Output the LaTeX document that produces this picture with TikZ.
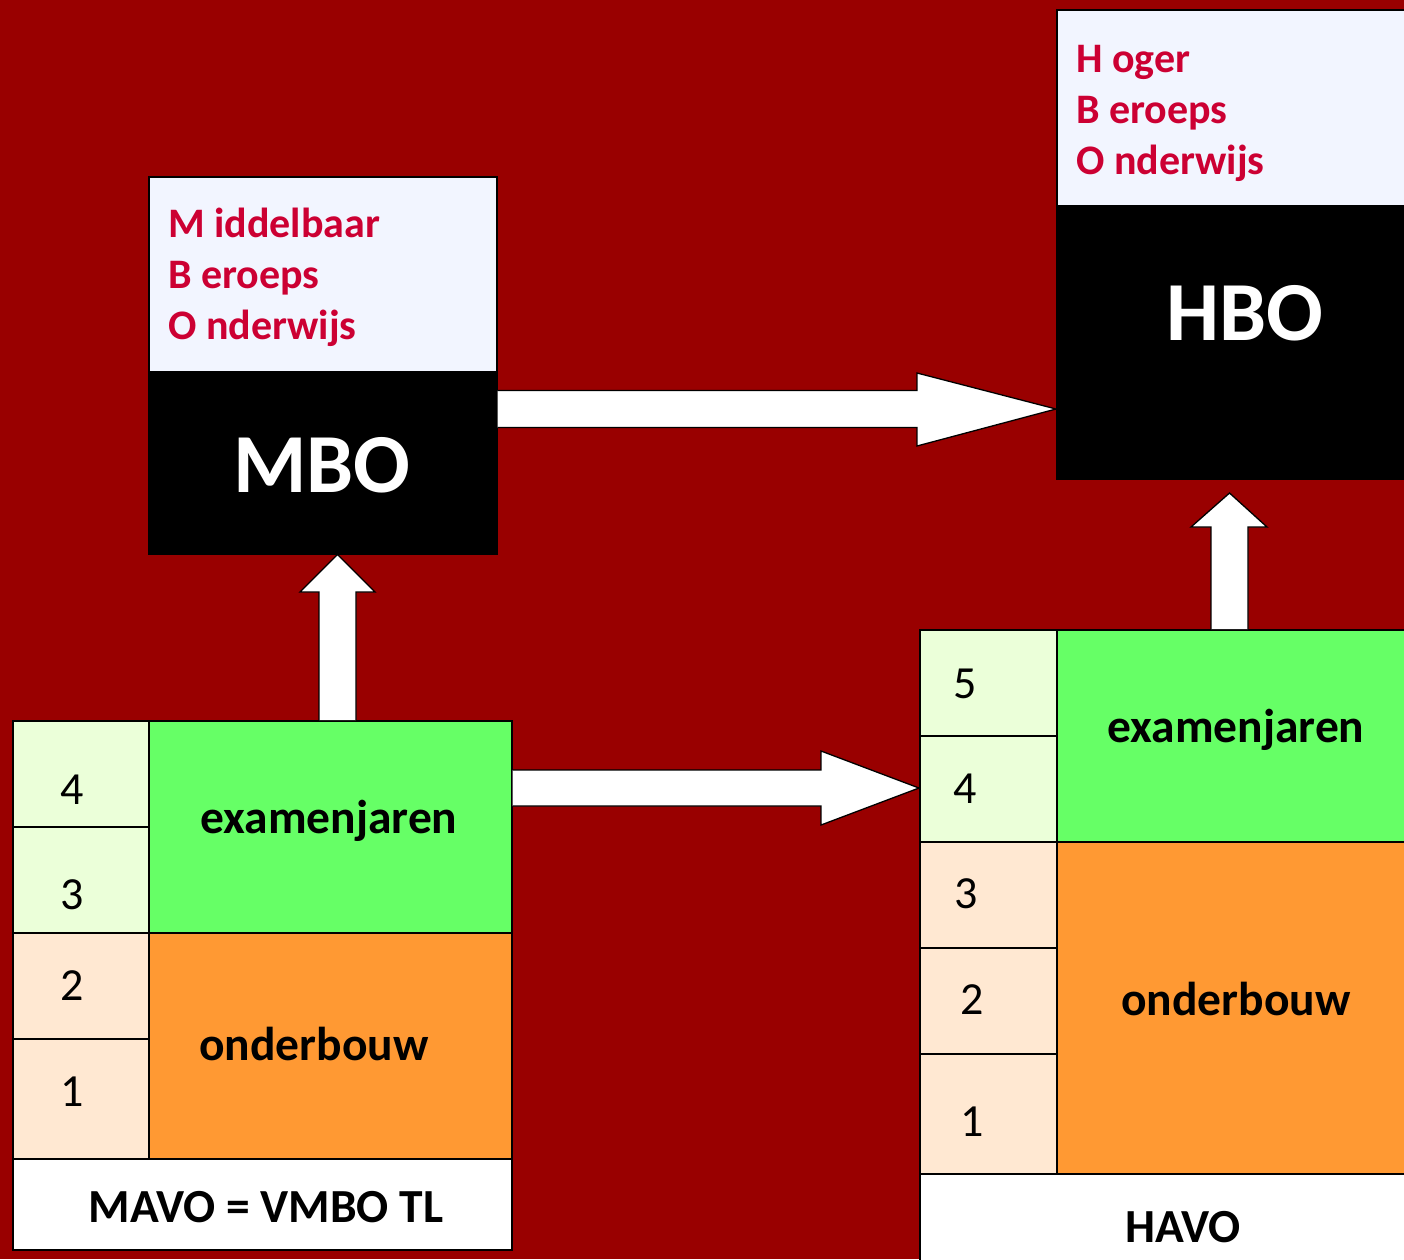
\documentclass[tikz,border=0pt]{standalone}
\usepackage{fontspec}
\setmainfont{Carlito}
\usetikzlibrary{calc}
\definecolor{bg}{HTML}{990000}
\definecolor{lgreen}{HTML}{EBFFD9}
\definecolor{green}{HTML}{66FF66}
\definecolor{lorange}{HTML}{FFE8D2}
\definecolor{orange}{HTML}{FF9933}
\definecolor{lblue}{HTML}{F2F5FF}
\definecolor{redtxt}{HTML}{CC0033}
\begin{document}
\begin{tikzpicture}[x=1pt,y=-1pt,
  cell/.style={draw=black, line width=1.5pt, inner sep=0pt, anchor=north west},
  num/.style={anchor=base, inner sep=0pt, font=\fontsize{46}{50}\selectfont},
  big/.style={anchor=base, inner sep=0pt, font=\fontsize{47.5}{52}\selectfont\bfseries},
  title/.style={anchor=base, inner sep=0pt, text=white, font=\fontsize{84}{90}\selectfont\bfseries},
  abbr/.style={anchor=base west, inner sep=0pt, align=left, text=redtxt, font=\fontsize{42}{51}\selectfont\bfseries},
  blockarrow/.style={fill=white, draw=black, line width=1.3pt, line join=miter}]
\fill[bg] (0,0) rectangle (1404,1259);
\useasboundingbox (0,0) rectangle (1404,1259);

% MBO box
\node[cell, fill=lblue, minimum width=348pt, minimum height=195pt] (mbotop) at (148,176) {};
\node[cell, fill=black, minimum width=348pt, minimum height=182pt] (mbo) at (148,371) {};
\node[abbr] (mbotxt) at (168,339) {M iddelbaar\\B eroeps\\O nderwijs};
\node[title] (mbolbl) at (322,492) {MBO};

% HBO box
\node[cell, fill=lblue, minimum width=360pt, minimum height=196pt] (hbotop) at (1056,9) {};
\node[cell, fill=black, minimum width=360pt, minimum height=273pt] (hbo) at (1056,205) {};
\node[abbr] (hbotxt) at (1076,174) {H oger\\B eroeps\\O nderwijs};
\node[title] (hbolbl) at (1245,340) {HBO};

% MAVO block
\node[cell, fill=lgreen, minimum width=136pt, minimum height=106pt] (m4) at (12,720) {};
\node[cell, fill=lgreen, minimum width=136pt, minimum height=106pt] (m3) at (12,826) {};
\node[cell, fill=lorange, minimum width=136pt, minimum height=106pt] (m2) at (12,932) {};
\node[cell, fill=lorange, minimum width=136pt, minimum height=120pt] (m1) at (12,1038) {};
\node[cell, fill=green, minimum width=363pt, minimum height=212pt] (mex) at (148,720) {};
\node[cell, fill=orange, minimum width=363pt, minimum height=226pt] (mob) at (148,932) {};
\node[cell, fill=white, minimum width=499pt, minimum height=91pt] (mlbl) at (12,1158) {};
\node[num] (n4) at (72,804) {4};
\node[num] (n3) at (72,909) {3};
\node[num] (n2) at (72,1000) {2};
\node[num] (n1) at (72,1106) {1};
\node[big] (mextxt) at (329,833) {examenjaren};
\node[big] (mobtxt) at (314,1060) {onderbouw};
\node[big] (mavotxt) at (266,1222) {MAVO = VMBO TL};

% HAVO block
\node[cell, fill=lgreen, minimum width=137pt, minimum height=106pt] (h5) at (919,629) {};
\node[cell, fill=lgreen, minimum width=137pt, minimum height=106pt] (h4) at (919,735) {};
\node[cell, fill=lorange, minimum width=137pt, minimum height=106pt] (h3) at (919,841) {};
\node[cell, fill=lorange, minimum width=137pt, minimum height=106pt] (h2) at (919,947) {};
\node[cell, fill=lorange, minimum width=137pt, minimum height=120pt] (h1) at (919,1053) {};
\node[cell, fill=green, minimum width=360pt, minimum height=212pt] (hex) at (1056,629) {};
\node[cell, fill=orange, minimum width=360pt, minimum height=332pt] (hob) at (1056,841) {};
\node[cell, fill=white, minimum width=497pt, minimum height=100pt] (hlbl) at (919,1173) {};
\node[num] (k5) at (965,698) {5};
\node[num] (k4) at (965,803) {4};
\node[num] (k3) at (966,908) {3};
\node[num] (k2) at (972,1014) {2};
\node[num] (k1) at (972,1136) {1};
\node[big] (hextxt) at (1236,742) {examenjaren};
\node[big] (hobtxt) at (1236,1015) {onderbouw};
\node[big] (havotxt) at (1183,1242) {HAVO};

% arrow MBO -> HBO
\coordinate (a1s) at (mbo.east |- 0,409);
\coordinate (a1t) at (hbo.west |- 0,409);
\draw[blockarrow] ($(a1s)+(0,-18.5)$) -- (917,390.5) -- (917,373) -- (a1t) -- (917,446) -- (917,427.5) -- ($(a1s)+(0,18.5)$);

% arrow MAVO -> HAVO
\coordinate (a2s) at (mex.east |- 0,788);
\coordinate (a2t) at (h4.west |- 0,788);
\draw[blockarrow] ($(a2s)+(0,-18)$) -- (821,770) -- (821,751) -- (a2t) -- (821,825) -- (821,806) -- ($(a2s)+(0,18)$);

% arrow MAVO -> MBO
\coordinate (a3s) at (mex.north -| 337.5,0);
\coordinate (a3t) at (mbo.south -| 337.5,0);
\draw[blockarrow] ($(a3s)+(-18.5,0)$) -- (319,592) -- (300,592) -- (a3t) -- (375,592) -- (356,592) -- ($(a3s)+(18.5,0)$);

% arrow HAVO -> HBO
\coordinate (a4s) at (hex.north -| 1229.5,0);
\coordinate (a4t) at (1229.5,493);
\draw[blockarrow] ($(a4s)+(-18.5,0)$) -- (1211,527) -- (1191,527) -- (a4t) -- (1267,527) -- (1248,527) -- ($(a4s)+(18.5,0)$);
\end{tikzpicture}
\end{document}
